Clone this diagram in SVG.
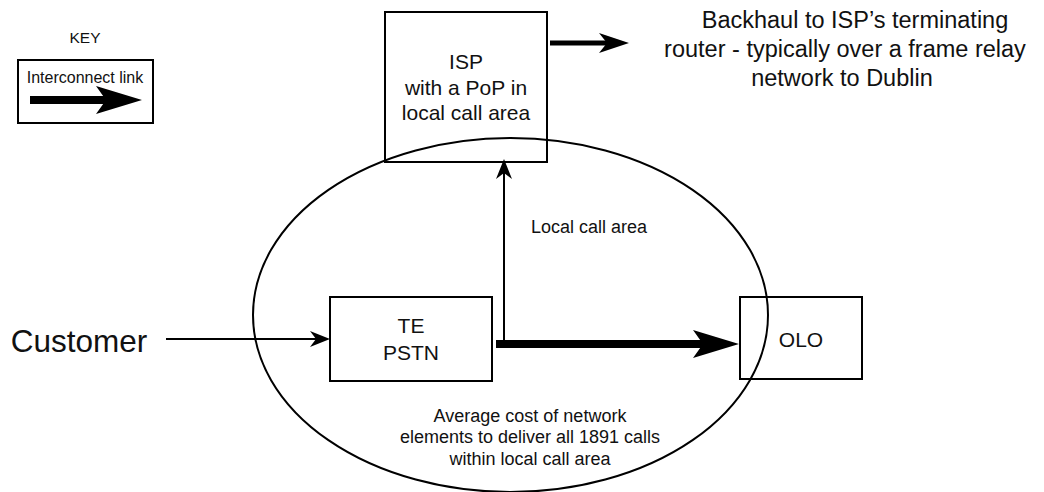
<svg xmlns="http://www.w3.org/2000/svg" width="1044" height="492" viewBox="0 0 1044 492">
  <style>
    text { font-family: "Liberation Sans", Arial, sans-serif; fill: #111; text-anchor: middle; }
    .box { fill: none; stroke: #000; stroke-width: 2; }
    .thin { fill: none; stroke: #000; stroke-width: 2; }
    .thick { fill: none; stroke: #000; stroke-width: 8; }
    .mid { fill: none; stroke: #000; stroke-width: 5; }
    .f21 { font-size: 21px; }
    .f18 { font-size: 18px; }
    .f23 { font-size: 23.5px; }
  </style>
  <defs>
    <marker id="hThin" markerUnits="userSpaceOnUse" viewBox="0 0 20 16" markerWidth="20" markerHeight="16" refX="6" refY="8" orient="auto">
      <path d="M0,0 L20,8 L0,16 L6,8 z" fill="#000"/>
    </marker>
    <marker id="hThick" markerUnits="userSpaceOnUse" viewBox="0 0 46 28" markerWidth="46" markerHeight="28" refX="10" refY="14" orient="auto">
      <path d="M0,0 L46,14 L0,28 L10,14 z" fill="#000"/>
    </marker>
    <marker id="hMid" markerUnits="userSpaceOnUse" viewBox="0 0 30 20" markerWidth="30" markerHeight="20" refX="8" refY="10" orient="auto">
      <path d="M0,0 L30,10 L0,20 L8,10 z" fill="#000"/>
    </marker>
  </defs>

  <g id="key">
    <text x="85" y="43" style="font-size:15.5px">KEY</text>
    <rect class="box" x="18" y="60" width="135" height="63"/>
    <text x="85" y="83" style="font-size:16px">Interconnect link</text>
    <line class="thick" x1="30" y1="100" x2="106" y2="100" marker-end="url(#hThick)"/>
  </g>

  <g id="local-call-area">
    <ellipse cx="510.5" cy="315" rx="257.5" ry="177" fill="none" stroke="#000" stroke-width="2"/>
    <text class="f18" x="530" y="422">Average cost of network</text>
    <text class="f18" x="530" y="443">elements to deliver all 1891 calls</text>
    <text class="f18" x="530" y="465">within local call area</text>
  </g>

  <g id="isp">
    <rect class="box" x="385" y="12" width="162" height="150"/>
    <text class="f21" x="466" y="69">ISP</text>
    <text class="f21" x="466" y="95">with a PoP in</text>
    <text class="f21" x="466" y="120">local call area</text>
  </g>

  <g id="te-pstn">
    <rect class="box" x="330" y="297" width="162" height="84"/>
    <text class="f21" x="411" y="333">TE</text>
    <text class="f21" x="411" y="360">PSTN</text>
  </g>

  <g id="olo">
    <rect class="box" x="740" y="297" width="122" height="82"/>
    <text class="f21" x="801" y="347">OLO</text>
  </g>

  <g id="customer">
    <text x="79" y="352" style="font-size:31.5px">Customer</text>
  </g>

  <g id="backhaul">
    <text class="f23" x="855" y="28">Backhaul to ISP’s terminating</text>
    <text class="f23" x="845" y="57">router - typically over a frame relay</text>
    <text class="f23" x="842" y="86">network to Dublin</text>
  </g>

  <g id="local-call-label">
    <text class="f18" x="589" y="233">Local call area</text>
  </g>

  <g id="connectors">
    <line class="thin" x1="166" y1="339" x2="316" y2="339" marker-end="url(#hThin)"/>
    <line class="thin" x1="504" y1="340" x2="504" y2="173" marker-end="url(#hThin)"/>
    <line class="thick" x1="496" y1="344" x2="703" y2="344" marker-end="url(#hThick)"/>
    <line class="mid" x1="550" y1="43" x2="607" y2="43" marker-end="url(#hMid)"/>
  </g>
</svg>
